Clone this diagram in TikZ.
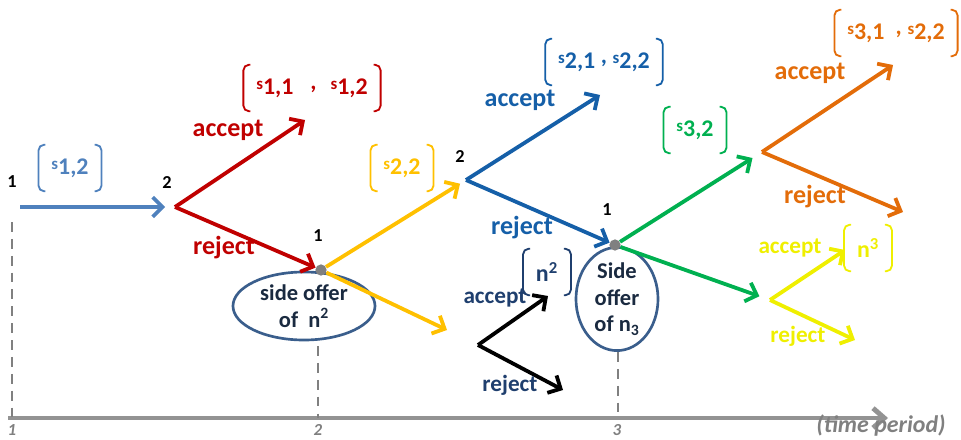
\documentclass[tikz,border=0pt]{standalone}
\usepackage{fontspec}
\setmainfont{Carlito}
\usetikzlibrary{arrows.meta,shapes.geometric}

\definecolor{lblue}{HTML}{4F81BD}
\definecolor{dred}{HTML}{C00000}
\definecolor{gold}{HTML}{FFC000}
\definecolor{mblue}{HTML}{155FA8}
\definecolor{navy}{HTML}{1F3F6E}
\definecolor{ngreen}{HTML}{00B050}
\definecolor{dorange}{HTML}{E36C09}
\definecolor{byellow}{HTML}{EFEF00}
\definecolor{lgrey}{HTML}{808080}
\definecolor{ringblue}{HTML}{3A5E8C}
\definecolor{inktext}{HTML}{1A2A40}

% payoff symbol s with its indices
\newcommand{\sv}[1]{{\fontsize{12}{12}\selectfont s}\raisebox{-0.4ex}{#1}}
% round brackets around a payoff node
\newcommand{\brk}[2]{%
  \draw[#2, line width=1.3pt, rounded corners=4pt]
    ([shift={(7,0)}]#1.north west) -- (#1.north west) -- (#1.south west) -- ([shift={(7,0)}]#1.south west);
  \draw[#2, line width=1.3pt, rounded corners=4pt]
    ([shift={(-7,0)}]#1.north east) -- (#1.north east) -- (#1.south east) -- ([shift={(-7,0)}]#1.south east);}

\begin{document}
\begin{tikzpicture}[x=0.025cm, y=-0.025cm,
    every node/.style={font=\bfseries},
    num/.style={font=\bfseries\fontsize{13}{13}\selectfont},
    act/.style={font=\bfseries\fontsize{18.5}{18.5}\selectfont},
    sact/.style={font=\bfseries\fontsize{16.5}{16.5}\selectfont},
    arr/.style={line width=2.7pt, -{Straight Barb[length=7pt,width=14pt]}},
    pay/.style={font=\bfseries\fontsize{17}{17}\selectfont, minimum height=1.15cm, inner xsep=9pt},
    hub/.style={circle, fill=lgrey, inner sep=0pt, minimum size=8pt},
    guide/.style={draw=lgrey, line width=1.6pt, dash pattern=on 7pt off 5pt},
    offer/.style={ellipse, draw=ringblue, line width=1.9pt, align=center, inner sep=0pt,
                  text=inktext, font=\bfseries\fontsize{16}{19}\selectfont},
    per/.style={font=\bfseries\itshape\fontsize{12}{12}\selectfont, text=lgrey}
]
  \useasboundingbox (0,0) rectangle (961,440);

  % time axis
  \coordinate (ax0) at (8,418);
  \coordinate (ax1) at (888,418);
  \draw[line width=3.5pt, lgrey!85, -{Straight Barb[length=8pt,width=14pt]}] (ax0) -- (ax1);
  \node[per] (p1) at (12,430) {1};
  \node[per] (p2) at (318,430) {2};
  \node[per] (p3) at (617,430) {3};
  \node[per, font=\bfseries\itshape\fontsize{17}{17}\selectfont] (tp) at (881,426) {(time period)};

  % period 1: offer by player 1
  \node[num] (t1) at (12,182) {1};
  \node[num] (t2) at (167,183) {2};
  \coordinate (s0) at (20,207);
  \coordinate (d1) at (175,207);
  \coordinate (v1) at (12,222);
  \draw[guide] (v1) -- (v1 |- ax0);
  \draw[arr, lblue, shorten >=7pt] (s0) -- (d1);
  \node[pay, text=lblue] (o1) at (70,168) {\sv{1,2}};
  \brk{o1}{lblue}

  % player 2 answers
  \node[offer, minimum width=3.55cm, minimum height=1.7cm] (so1) at (304,306) {side offer\\of \ n\textsuperscript{2}};
  \node[hub] (h1) at (321,270) {};
  \node[num] (t3) at (318,236) {1};
  \coordinate (d1a) at (305,120);
  \draw[arr, dred] (d1) -- (d1a);
  \draw[arr, dred] (d1) -- (h1);
  \node[act, text=dred] at (228,130) {accept};
  \node[act, text=dred] at (224,248) {reject};
  \node[pay, text=dred] (o2) at (312,88) {\sv{1,1}\hspace{12pt},\hspace{10pt}\sv{1,2}};
  \brk{o2}{dred}
  \coordinate (v2) at (318,346);
  \draw[guide] (v2) -- (v2 |- ax0);

  % period 2: offer by player 1
  \coordinate (d2) at (466,180);
  \coordinate (y1r) at (447,330);
  \node[num] (t4) at (460,157) {2};
  \draw[arr, gold, shorten >=5pt] (h1) -- (d2);
  \draw[arr, gold] (h1) -- (y1r);
  \node[pay, text=gold] (o3) at (402,168) {\sv{2,2}};
  \brk{o3}{gold}

  % player 2 answers
  \node[offer, minimum width=2.05cm, minimum height=2.45cm] (so2) at (617,299) {Side\\offer\\of n\textsubscript{3}};
  \node[hub] (h2) at (615,245) {};
  \node[num] (t5) at (607,210) {1};
  \coordinate (d2a) at (600,95);
  \draw[arr, mblue] (d2) -- (d2a);
  \draw[arr, mblue] (d2) -- (h2);
  \node[act, text=mblue] at (520,100) {accept};
  \node[act, text=mblue] at (522,228) {reject};
  \node[pay, text=mblue] (o4) at (604,62) {\sv{2,1}\hspace{4pt},\hspace{4pt}\sv{2,2}};
  \brk{o4}{mblue}
  \coordinate (v3) at (618,352);
  \draw[guide] (v3) -- (v3 |- ax0);

  % side offer n^2
  \coordinate (k) at (478,345);
  \coordinate (ka) at (548,296);
  \coordinate (kr) at (563,390);
  \draw[arr, black] (k) -- (ka);
  \draw[arr, black] (k) -- (kr);
  \node[sact, text=navy] at (495,298) {accept};
  \node[sact, text=navy] at (510,385) {reject};
  \node[pay, text=navy] (o5) at (547,272) {n\textsuperscript{2}};
  \brk{o5}{navy}

  % period 3: offer by player 1
  \coordinate (d3) at (762,152);
  \coordinate (d4) at (770,300);
  \draw[arr, ngreen, shorten >=8pt] (h2) -- (d3);
  \draw[arr, ngreen, shorten >=8pt] (h2) -- (d4);
  \node[pay, text=ngreen] (o6) at (695,130) {\sv{3,2}};
  \brk{o6}{ngreen}

  % player 2 answers
  \coordinate (d3a) at (893,65);
  \coordinate (d3r) at (903,212);
  \draw[arr, dorange] (d3) -- (d3a);
  \draw[arr, dorange] (d3) -- (d3r);
  \node[act, text=dorange] at (810,73) {accept};
  \node[act, text=dorange] at (815,197) {reject};
  \node[pay, text=dorange] (o7) at (896,33) {\sv{3,1}\hspace{8pt},\hspace{4pt}\sv{2,2}};
  \brk{o7}{dorange}

  % side offer n^3
  \coordinate (d4a) at (845,250);
  \coordinate (d4r) at (855,340);
  \draw[arr, byellow] (d4) -- (d4a);
  \draw[arr, byellow] (d4) -- (d4r);
  \node[sact, text=byellow] at (790,248) {accept};
  \node[sact, text=byellow] at (798,336) {reject};
  \node[pay, text=byellow] (o8) at (868,248) {n\textsuperscript{3}};
  \brk{o8}{byellow}
\end{tikzpicture}
\end{document}
